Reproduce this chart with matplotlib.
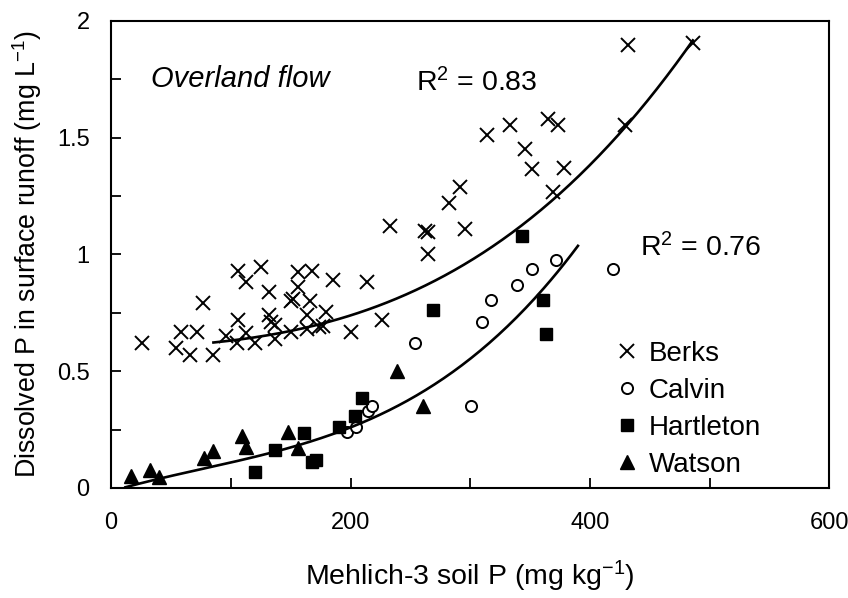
import numpy as np
import matplotlib
matplotlib.use('Agg')
import matplotlib.pyplot as plt
from matplotlib.ticker import MultipleLocator

plt.rcParams['font.family'] = ['Liberation Sans', 'DejaVu Sans']
plt.rcParams['mathtext.default'] = 'regular'

berks_x = [26, 54, 58.5, 66, 72, 76.6, 85, 96, 105, 106, 106, 112.5, 113, 120, 125.6,
           132, 132, 133.7, 137, 137, 150, 152, 150, 156.5, 156.5, 164, 163.5, 168, 166,
           174, 177, 179.6, 185, 200, 214, 226, 233, 262, 265, 264.6, 282.4, 291.6, 295.7,
           314, 333, 346, 365, 373.7, 352, 378.7, 369, 432, 429, 486.5]
berks_y = [0.62, 0.60, 0.67, 0.57, 0.67, 0.79, 0.57, 0.65, 0.62, 0.72, 0.93, 0.88, 0.665, 0.62, 0.945,
           0.84, 0.74, 0.71, 0.70, 0.64, 0.80, 0.81, 0.67, 0.925, 0.86, 0.74, 0.68, 0.93, 0.80,
           0.69, 0.695, 0.755, 0.89, 0.67, 0.88, 0.72, 1.12, 1.10, 1.097, 1.00, 1.22, 1.29, 1.107,
           1.51, 1.553, 1.453, 1.578, 1.553, 1.368, 1.372, 1.268, 1.896, 1.556, 1.907]

calvin_x = [197.4, 205, 214.4, 218, 254, 300.5, 309.7, 317.5, 339, 352, 372, 419]
calvin_y = [0.238, 0.26, 0.33, 0.352, 0.62, 0.352, 0.712, 0.806, 0.87, 0.937, 0.976, 0.937]

hartleton_x = [120, 137, 161, 168, 171, 190, 204, 209.4, 268.7, 343, 361, 363.4]
hartleton_y = [0.07, 0.163, 0.234, 0.11, 0.12, 0.262, 0.31, 0.384, 0.762, 1.078, 0.804, 0.66]

watson_x = [17, 32.6, 40, 78, 85.5, 109, 112.5, 147.6, 156.5, 238.6, 260.4]
watson_y = [0.05, 0.077, 0.046, 0.13, 0.16, 0.224, 0.177, 0.24, 0.17, 0.50, 0.352]

# trend lines
berks_trend_x = [85.5, 185.7, 224.7, 308, 314, 343, 369.6, 408.5, 429, 486]
berks_trend_y = [0.619, 0.726, 0.79, 0.99, 1.018, 1.09, 1.247, 1.446, 1.556, 1.905]
other_trend_x = [12, 74, 158, 213.6, 224.7, 269, 308, 358, 390]
other_trend_y = [0.005, 0.077, 0.177, 0.29, 0.327, 0.44, 0.585, 0.82, 1.047]

fig = plt.figure(figsize=(8.48, 5.98), dpi=100)
ax = fig.add_axes([0.131, 0.184, 0.847, 0.781])

ax.plot(berks_x, berks_y, linestyle='none', marker='x', ms=9.5, mew=1.4, color='black', label='Berks')
ax.plot(calvin_x, calvin_y, linestyle='none', marker='o', ms=8, mew=1.4, mfc='white', color='black', label='Calvin')
ax.plot(hartleton_x, hartleton_y, linestyle='none', marker='s', ms=8, color='black', label='Hartleton')
ax.plot(watson_x, watson_y, linestyle='none', marker='^', ms=9.5, color='black', label='Watson')

for tx, ty in [(berks_trend_x, berks_trend_y), (other_trend_x, other_trend_y)]:
    coef = np.polyfit(tx, ty, 3)
    xx = np.linspace(min(tx), max(tx), 200)
    ax.plot(xx, np.polyval(coef, xx), color='black', lw=1.9)

ax.set_xlim(0, 600)
ax.set_ylim(0, 2)
ax.xaxis.set_major_locator(MultipleLocator(200))
ax.xaxis.set_minor_locator(MultipleLocator(100))
ax.yaxis.set_major_locator(MultipleLocator(0.5))
ax.yaxis.set_minor_locator(MultipleLocator(0.25))
ax.yaxis.set_major_formatter(plt.FuncFormatter(lambda v, p: '%g' % v))
ax.tick_params(which='both', direction='in', length=7, width=1.3, labelsize=17)
ax.tick_params(axis='x', which='both', pad=17)
ax.tick_params(axis='y', which='both', pad=15.5)
for s in ax.spines.values():
    s.set_linewidth(1.5)

ax.set_xlabel('Mehlich-3 soil P (mg kg$^{-1}$)', fontsize=20.5, labelpad=18)
ax.set_ylabel('Dissolved P in surface runoff (mg L$^{-1}$)', fontsize=19.3, labelpad=9)

ax.text(33, 1.75, 'Overland flow', fontsize=21, style='italic', va='center')
ax.text(255, 1.737, 'R$^2$ = 0.83', fontsize=20.5, va='center')
ax.text(442, 1.03, 'R$^2$ = 0.76', fontsize=20.5, va='center')

ax.legend(loc='upper left', bbox_to_anchor=(0.687, 0.345), frameon=False, fontsize=20,
          handlelength=0.6, handletextpad=0.5, labelspacing=0.4, borderpad=0)

plt.savefig('out.png', dpi=100)
